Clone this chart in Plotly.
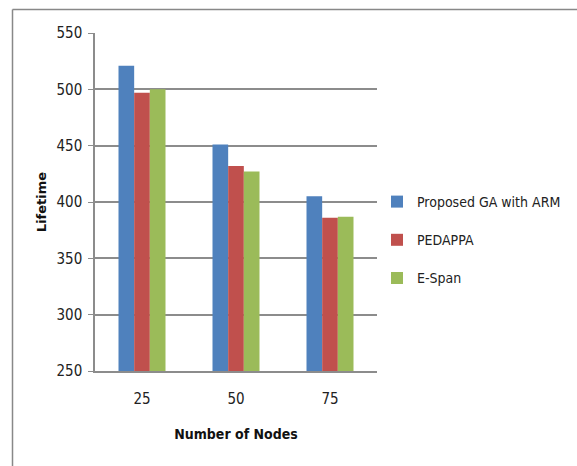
import plotly.graph_objects as go

categories = ["25", "50", "75"]
series_names = ["Proposed GA with ARM", "PEDAPPA", "E-Span"]
ga_arm = [521, 451, 405]
pedappa = [497, 432, 386]
espan = [500, 427, 387]
colors = ["#4F81BD", "#C0504D", "#9BBB59"]

FONT = "Liberation Sans Narrow, DejaVu Sans Condensed, Arial Narrow, sans-serif"

fig = go.Figure()
for i, (name, vals) in enumerate(zip(series_names, [ga_arm, pedappa, espan])):
    fig.add_trace(go.Bar(
        x=categories, y=vals, name=name, marker_color=colors[i],
        marker_line_width=0, legendgroup=name,
    ))

W, H = 577, 466
L, R, T, B = 95, 200, 33, 95
pw, ph = W - L - R, H - T - B

def px_x(p):
    return (p - L) / pw

def px_y(p):
    return (H - B - p) / ph

fig.update_layout(
    width=W, height=H,
    margin=dict(l=L, r=R, t=T, b=B, autoexpand=False),
    plot_bgcolor="white", paper_bgcolor="white",
    barmode="group", bargap=0.5, bargroupgap=0,
    font=dict(family=FONT, size=14, color="#222"),
    showlegend=True,
    legend=dict(x=px_x(377), y=px_y(240), xanchor="left", yanchor="middle",
                font=dict(family=FONT, size=14, color="#222"),
                tracegroupgap=17, itemwidth=30),
    xaxis=dict(
        showline=True, linecolor="#8c8c8c", linewidth=1.5,
        showgrid=False, ticks="", ticklabelstandoff=13,
        tickfont=dict(family=FONT, size=15, color="#222"),
        title=dict(text="<b>Number of Nodes</b>", standoff=22,
                   font=dict(family=FONT, size=14, color="#111")),
    ),
    yaxis=dict(
        range=[250, 550], dtick=50, tick0=250,
        showline=True, linecolor="#8c8c8c", linewidth=1.5,
        showgrid=True, gridcolor="#8c8c8c", gridwidth=1.5,
        ticks="outside", ticklen=5, tickcolor="#8c8c8c", ticklabelstandoff=3,
        tickfont=dict(family=FONT, size=15, color="#222"),
        title=dict(text="<b>Lifetime</b>", standoff=7,
                   font=dict(family="DejaVu Sans, sans-serif", size=13, color="#111")),
    ),
)

# outer chart border (left and top edges)
fig.add_shape(type="line", xref="paper", yref="paper",
              x0=px_x(12.5), x1=px_x(12.5), y0=px_y(470), y1=px_y(9.5),
              line=dict(color="#888888", width=1.5))
fig.add_shape(type="line", xref="paper", yref="paper",
              x0=px_x(12.5), x1=px_x(580), y0=px_y(9.5), y1=px_y(9.5),
              line=dict(color="#888888", width=1.5))

fig.write_html("out.html", config={"displayModeBar": False},
               post_script="document.body.style.margin='0';document.body.style.overflow='hidden';")
